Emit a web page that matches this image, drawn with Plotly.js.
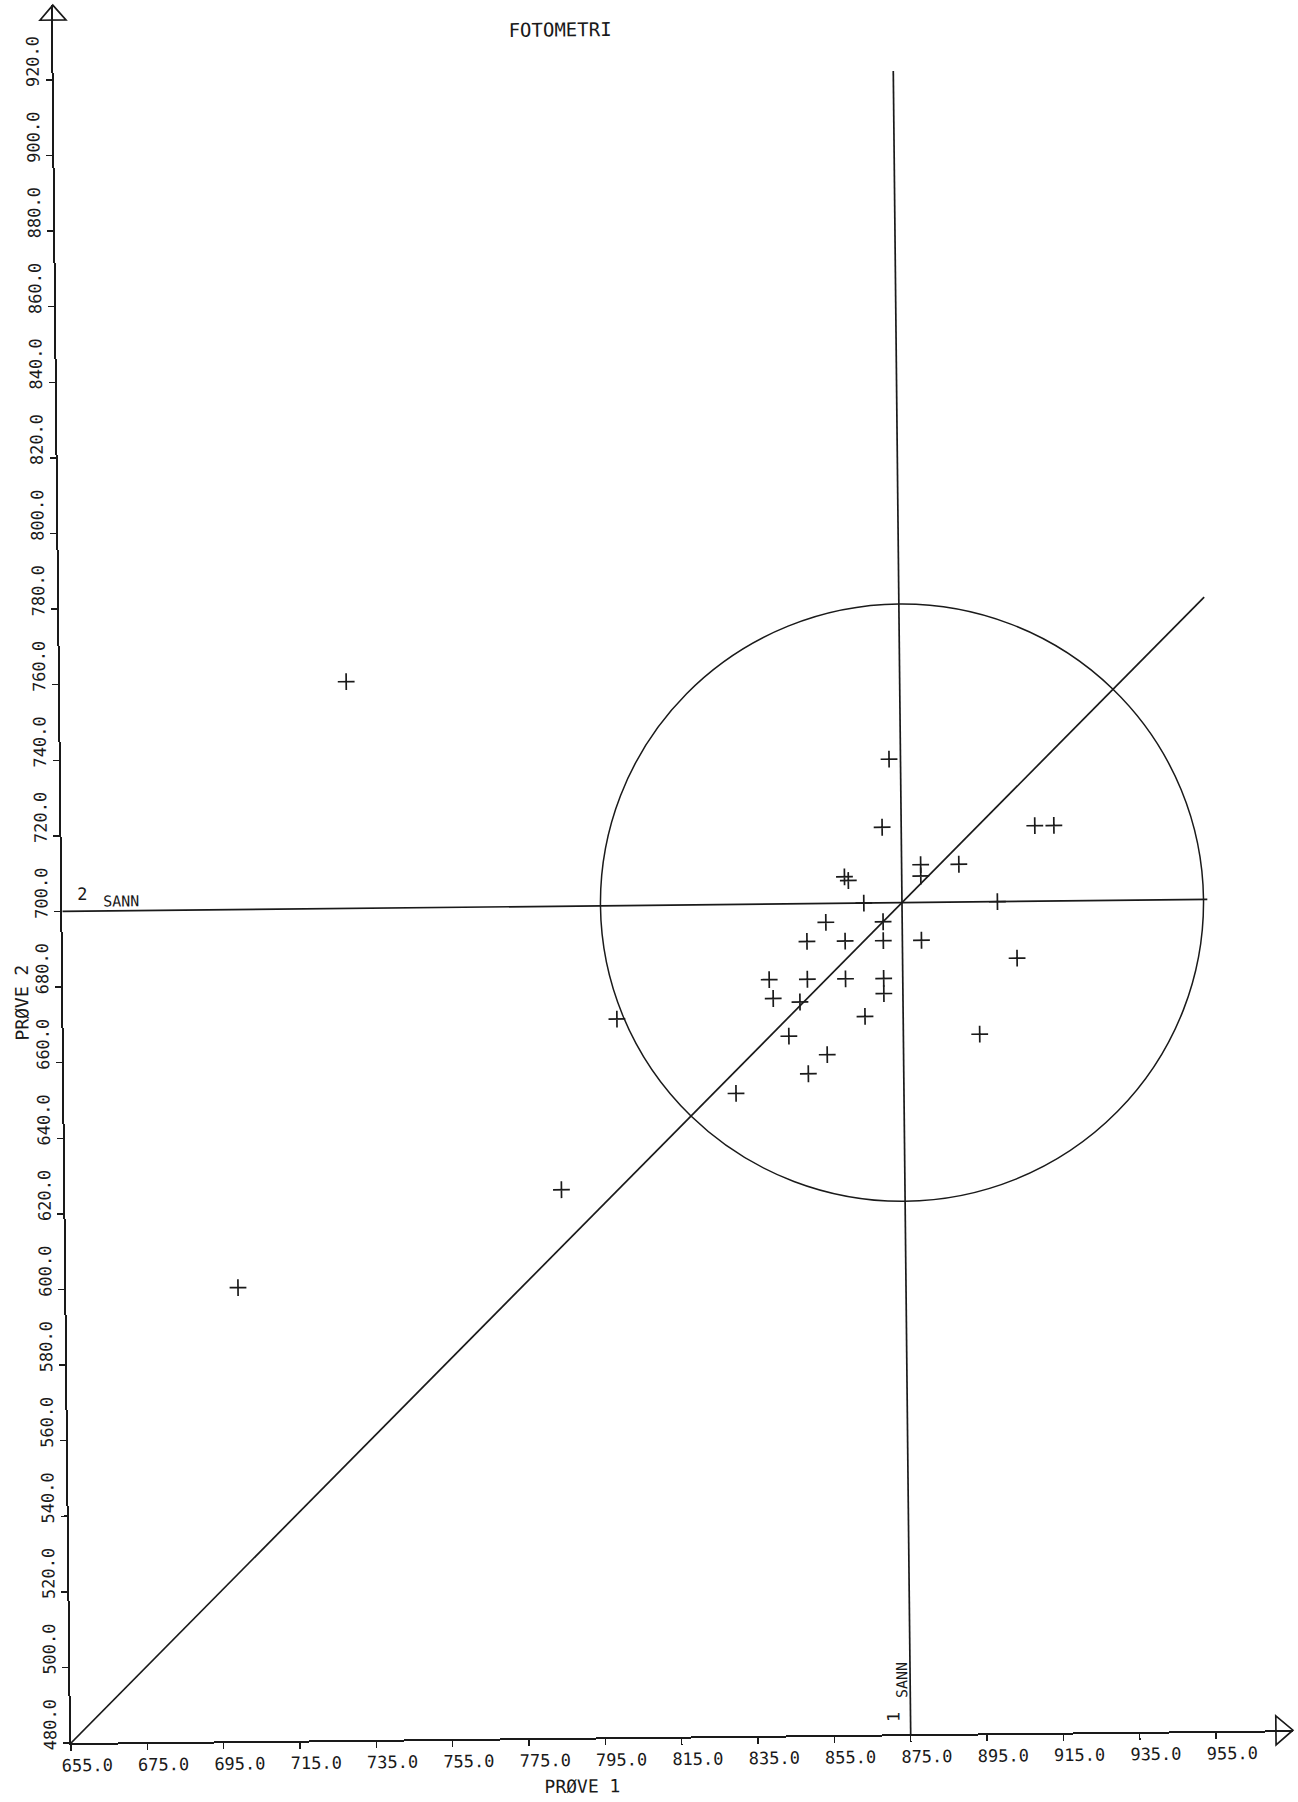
<!DOCTYPE html>
<html><head><meta charset="utf-8">
<script src="https://cdn.plot.ly/plotly-3.0.1.min.js"></script>
<style>
html,body{margin:0;padding:0;background:#fff;overflow:hidden;}
#chart{width:1298px;height:1802px;transform-origin:71px 1743px;transform:rotate(-0.6deg);}
</style>
</head><body><div id="chart"></div>
<script>
// ---- data ----
const prove1 = [872, 870, 910, 915, 880, 880, 890, 860, 861, 865, 900, 855, 870, 850, 860, 870, 880, 905, 840, 850, 860, 870, 841, 848, 870, 865, 895, 800, 845, 855, 850, 831, 730, 785, 700];
const prove2 = [738, 720, 720, 720, 710, 707, 710, 707, 706, 700, 700, 695, 695, 690, 690, 690, 690, 685, 680, 680, 680, 680, 675, 674, 676, 670, 665, 670, 665, 660, 655, 650, 760, 625, 600];
const xTickVals = [655, 675, 695, 715, 735, 755, 775, 795, 815, 835, 855, 875, 895, 915, 935, 955];
const xTickText = ['655.0','675.0','695.0','715.0','735.0','755.0','775.0','795.0','815.0','835.0','855.0','875.0','895.0','915.0','935.0','955.0'];
const yTickVals = [480, 500, 520, 540, 560, 580, 600, 620, 640, 660, 680, 700, 720, 740, 760, 780, 800, 820, 840, 860, 880, 900, 920];
const yTickText = ['480.0','500.0','520.0','540.0','560.0','580.0','600.0','620.0','640.0','660.0','680.0','700.0','720.0','740.0','760.0','780.0','800.0','820.0','840.0','860.0','880.0','900.0','920.0'];
const trueValue1 = 875;   // "1 SANN"
const trueValue2 = 700;   // "2 SANN"
const circleRadius = 79;
const lineXMin = 655, lineXMax = 955, lineYMin = 480, lineYMax = 920;

// ---- layout helpers (pixel -> paper) ----
const W = 1298, H = 1802, L = 71, R = 1293, T = 5, B = 1743;
const px = x => (x - L) / (R - L);
const py = y => (B - y) / (B - T);
const ink = '#1a1a1a';
const mono = 'DejaVu Sans Mono, monospace';

const trace = {
  x: prove1, y: prove2, type: 'scatter', mode: 'markers',
  marker: {symbol: 'cross-thin', size: 12, color: ink, line: {width: 1.7, color: ink}},
  hoverinfo: 'x+y'
};

const shapes = [
  {type: 'line', xref: 'x', yref: 'y', x0: trueValue1, x1: trueValue1, y0: lineYMin, y1: lineYMax, line: {color: ink, width: 1.7}},
  {type: 'line', xref: 'x', yref: 'y', x0: lineXMin, x1: lineXMax, y0: trueValue2, y1: trueValue2, line: {color: ink, width: 1.7}},
  {type: 'line', xref: 'x', yref: 'y', x0: lineXMin, y0: trueValue2 + (lineXMin - trueValue1), x1: lineXMax, y1: trueValue2 + (lineXMax - trueValue1), line: {color: ink, width: 1.7}},
  {type: 'circle', xref: 'x', yref: 'y', x0: trueValue1 - circleRadius, x1: trueValue1 + circleRadius, y0: trueValue2 - circleRadius, y1: trueValue2 + circleRadius, line: {color: ink, width: 1.5}},
  // arrow heads
  {type: 'path', xref: 'paper', yref: 'paper', path: `M ${px(58)} ${py(20)} L ${px(71)} ${py(5)} L ${px(84)} ${py(20)} Z`, line: {color: ink, width: 1.7}},
  {type: 'path', xref: 'paper', yref: 'paper', path: `M ${px(1276)} ${py(1728.5)} L ${px(1293)} ${py(1743)} L ${px(1276)} ${py(1757.5)} Z`, line: {color: ink, width: 1.7}}
];

const annotations = [
  {x: lineXMin, y: trueValue2, xref: 'x', yref: 'y', text: '2', showarrow: false, xanchor: 'center', yanchor: 'middle', xshift: 20, yshift: 17, font: {family: mono, size: 17, color: ink}},
  {x: lineXMin, y: trueValue2, xref: 'x', yref: 'y', text: 'SANN', showarrow: false, xanchor: 'center', yanchor: 'middle', xshift: 59, yshift: 9, font: {family: mono, size: 15, color: ink}},
  {x: trueValue1, y: lineYMin, xref: 'x', yref: 'y', text: '1', showarrow: false, textangle: -90, xanchor: 'center', yanchor: 'middle', xshift: -17, yshift: 17, font: {family: mono, size: 17, color: ink}},
  {x: trueValue1, y: lineYMin, xref: 'x', yref: 'y', text: 'SANN', showarrow: false, textangle: -90, xanchor: 'center', yanchor: 'middle', xshift: -8, yshift: 54, font: {family: mono, size: 15, color: ink}},
  {x: px(582), y: py(1791), xref: 'paper', yref: 'paper', text: 'PRØVE 1', showarrow: false, xanchor: 'center', yanchor: 'middle', font: {family: mono, size: 18, color: ink}},
  {x: px(29), y: py(1002), xref: 'paper', yref: 'paper', text: 'PRØVE 2', showarrow: false, textangle: -90, xanchor: 'center', yanchor: 'middle', font: {family: mono, size: 18, color: ink}}
];

const axisCommon = {
  showgrid: false, zeroline: false, showline: true, linecolor: ink, linewidth: 2,
  ticks: 'outside', ticklen: 6, tickwidth: 1.5, tickcolor: ink,
  tickmode: 'array', tickfont: {family: mono, size: 17, color: ink},
  fixedrange: true
};

const layout = {
  width: W, height: H,
  margin: {l: L, r: W - R, t: T, b: H - B, pad: 0},
  paper_bgcolor: '#ffffff', plot_bgcolor: '#ffffff',
  showlegend: false,
  title: {text: 'FOTOMETRI', xref: 'container', yref: 'container', x: 578 / W, y: 1 - 35 / H, xanchor: 'center', yanchor: 'middle', font: {family: mono, size: 19, color: ink}},
  xaxis: Object.assign({}, axisCommon, {range: [655, 655 + (R - L) / 3.817], tickvals: xTickVals, ticktext: xTickText, tickangle: 0, ticklabelshift: 16}),
  yaxis: Object.assign({}, axisCommon, {range: [480, 480 + (B - T) / 3.78], tickvals: yTickVals, ticktext: yTickText, tickangle: -90, ticklabelshift: -16}),
  shapes: shapes,
  annotations: annotations
};

Plotly.newPlot('chart', [trace], layout, {displayModeBar: false, staticPlot: true});
</script>
</body></html>
